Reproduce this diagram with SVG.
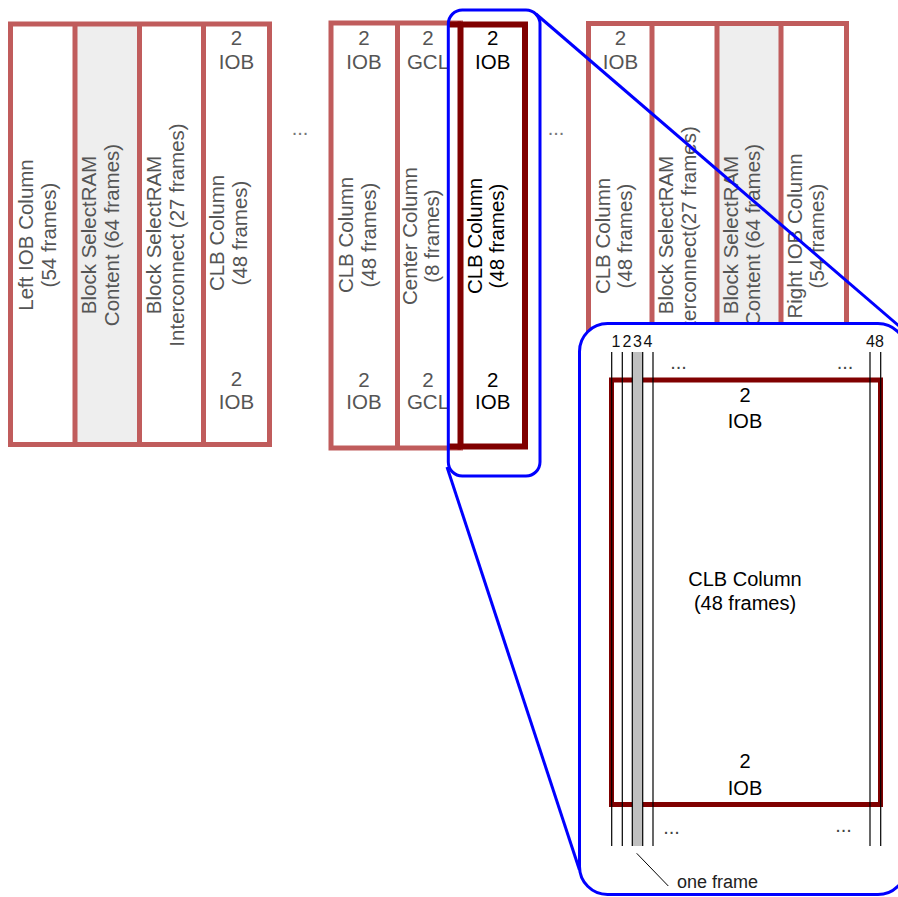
<svg xmlns="http://www.w3.org/2000/svg" width="898" height="897" viewBox="0 0 898 897">
<style>
.lb{fill:none;stroke:#c05c5c;stroke-width:5}
.gf{fill:#eeeeee}
.dk{fill:none;stroke:#800000;stroke-width:6}
.blue{fill:none;stroke:#0000ff;stroke-width:3}
.t{font-family:"Liberation Sans",Arial,sans-serif;font-size:20.5px;fill:#555;text-anchor:middle}
.k{fill:#000}
.dots{font-family:"Liberation Sans",Arial,sans-serif;font-size:20px;fill:#777;text-anchor:middle}
.num{font-family:"Liberation Sans",Arial,sans-serif;font-size:16px;fill:#111;text-anchor:middle}
.fl{stroke:#000;stroke-width:1.2}
</style>
<rect width="898" height="897" fill="#fff"/>

<g id="left-group">
  <rect class="gf" x="75" y="24" width="64.5" height="420.5"/>
  <rect class="lb" x="10.5" y="24" width="259" height="420.5"/>
  <line class="lb" x1="75" y1="24" x2="75" y2="444.5"/>
  <line class="lb" x1="139.5" y1="24" x2="139.5" y2="444.5"/>
  <line class="lb" x1="203.5" y1="24" x2="203.5" y2="444.5"/>
  <text class="t" transform="translate(10.5,235) rotate(-90)"><tspan x="0" y="22.5">Left IOB Column</tspan><tspan x="0" y="45">(54 frames)</tspan></text>
  <text class="t" transform="translate(75,235) rotate(-90)"><tspan x="0" y="21">Block SelectRAM</tspan><tspan x="0" y="44">Content (64 frames)</tspan></text>
  <text class="t" transform="translate(139.5,235) rotate(-90)"><tspan x="0" y="21">Block SelectRAM</tspan><tspan x="0" y="44">Interconnect (27 frames)</tspan></text>
  <text class="t" transform="translate(203.5,233) rotate(-90)"><tspan x="0" y="20">CLB Column</tspan><tspan x="0" y="43">(48 frames)</tspan></text>
  <text class="t" x="236.5" y="45">2</text>
  <text class="t" x="236.5" y="68.5">IOB</text>
  <text class="t" x="236.5" y="386">2</text>
  <text class="t" x="236.5" y="409">IOB</text>
</g>

<g id="middle-group">
  <rect class="lb" x="331" y="23" width="129.5" height="425"/>
  <line class="lb" x1="397.5" y1="23" x2="397.5" y2="448"/>
  <text class="t" transform="translate(331,235) rotate(-90)"><tspan x="0" y="22">CLB Column</tspan><tspan x="0" y="45">(48 frames)</tspan></text>
  <text class="t" transform="translate(397.5,236) rotate(-90)"><tspan x="0" y="19">Center Column</tspan><tspan x="0" y="41.5">(8 frames)</tspan></text>
  <text class="t" x="364" y="45">2</text>
  <text class="t" x="364" y="69">IOB</text>
  <text class="t" x="364" y="387">2</text>
  <text class="t" x="364" y="409">IOB</text>
  <text class="t" x="428" y="45">2</text>
  <text class="t" x="428" y="69">GCL</text>
  <text class="t" x="428" y="387">2</text>
  <text class="t" x="428" y="409">GCL</text>
</g>

<g id="selected-clb-column">
  <rect class="dk" x="460.5" y="24.5" width="64.5" height="422"/>
  <line class="dk" x1="449" y1="24.5" x2="461" y2="24.5"/>
  <line class="dk" x1="449" y1="446.5" x2="461" y2="446.5"/>
  <text class="t k" transform="translate(460.5,236) rotate(-90)"><tspan x="0" y="21">CLB Column</tspan><tspan x="0" y="43.5">(48 frames)</tspan></text>
  <text class="t k" x="492.75" y="45">2</text>
  <text class="t k" x="492.75" y="69">IOB</text>
  <text class="t k" x="492.75" y="387">2</text>
  <text class="t k" x="492.75" y="409">IOB</text>
</g>

<g id="right-group">
  <rect class="gf" x="717" y="23.5" width="64" height="320"/>
  <rect class="lb" x="588.5" y="23.5" width="258" height="320"/>
  <line class="lb" x1="652" y1="23.5" x2="652" y2="343.5"/>
  <line class="lb" x1="717" y1="23.5" x2="717" y2="343.5"/>
  <line class="lb" x1="781" y1="23.5" x2="781" y2="343.5"/>
  <text class="t" transform="translate(588.5,236) rotate(-90)"><tspan x="0" y="21.5">CLB Column</tspan><tspan x="0" y="43">(48 frames)</tspan></text>
  <text class="t" transform="translate(652,235) rotate(-90)"><tspan x="0" y="20.5">Block SelectRAM</tspan><tspan x="0" y="44">Interconnect(27 frames)</tspan></text>
  <text class="t" transform="translate(717,235) rotate(-90)"><tspan x="0" y="20.5">Block SelectRAM</tspan><tspan x="0" y="43">Content (64 frames)</tspan></text>
  <text class="t" transform="translate(781,236) rotate(-90)"><tspan x="0" y="21">Right IOB Column</tspan><tspan x="0" y="42.5">(54 frames)</tspan></text>
  <text class="t" x="620.5" y="45">2</text>
  <text class="t" x="620.5" y="69">IOB</text>
</g>

<g id="ellipses">
  <text class="dots" x="300" y="135">...</text>
  <text class="dots" x="556" y="135">...</text>
</g>

<g id="highlight">
  <rect class="blue" x="448.3" y="10" width="91.7" height="466" rx="14"/>
</g>

<g id="connectors">
  <line class="blue" x1="536" y1="14" x2="906" y2="332"/>
  <line class="blue" x1="447" y1="467" x2="579.5" y2="870"/>
</g>

<g id="inset">
  <rect x="579.5" y="323.5" width="326.5" height="571" rx="28" fill="#fff" stroke="#0000ff" stroke-width="3"/>
  <rect x="611.5" y="380" width="269" height="424.5" fill="none" stroke="#800000" stroke-width="5"/>
  <rect x="632.3" y="352" width="10.4" height="494" fill="#c0c0c0"/>
  <line class="fl" x1="611.7" y1="352" x2="611.7" y2="846"/>
  <line class="fl" x1="622.3" y1="352" x2="622.3" y2="846"/>
  <line class="fl" x1="632.3" y1="352" x2="632.3" y2="846"/>
  <line class="fl" x1="642.7" y1="352" x2="642.7" y2="846"/>
  <line class="fl" x1="653" y1="352" x2="653" y2="846"/>
  <line class="fl" x1="870" y1="352" x2="870" y2="846"/>
  <line class="fl" x1="880.7" y1="352" x2="880.7" y2="846"/>
  <text class="num" x="616" y="346.5">1</text>
  <text class="num" x="627" y="346.5">2</text>
  <text class="num" x="637.5" y="346.5">3</text>
  <text class="num" x="648" y="346.5">4</text>
  <text class="num" x="875" y="346.5">48</text>
  <text class="dots" style="fill:#444" x="678.5" y="369">...</text>
  <text class="dots" style="fill:#444" x="845" y="369">...</text>
  <text class="dots" style="fill:#444" x="671.5" y="834">...</text>
  <text class="dots" style="fill:#444" x="843.5" y="832">...</text>
  <text class="t k" style="font-size:20px" x="745" y="402">2</text>
  <text class="t k" style="font-size:20px" x="745" y="428">IOB</text>
  <text class="t k" style="font-size:20px" x="745" y="586">CLB Column</text>
  <text class="t k" style="font-size:20px" x="745" y="610">(48 frames)</text>
  <text class="t k" style="font-size:20px" x="745" y="768">2</text>
  <text class="t k" style="font-size:20px" x="745" y="795">IOB</text>
  <line x1="636.7" y1="853.3" x2="668.3" y2="886" stroke="#000" stroke-width="1"/>
  <text x="677" y="888" style="font-family:'Liberation Sans',Arial,sans-serif;font-size:18px;fill:#222">one frame</text>
</g>
</svg>
